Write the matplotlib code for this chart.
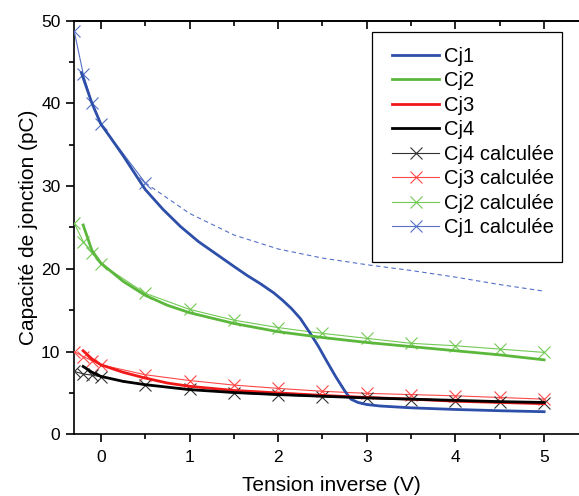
import matplotlib
matplotlib.use("Agg")
import matplotlib.pyplot as plt
from matplotlib.lines import Line2D
from matplotlib.patches import Rectangle

plt.rcParams['font.family'] = ['Liberation Sans', 'DejaVu Sans']

# Measured junction capacitance curves (smooth lines)
v_cj1 = [-0.22, -0.1, 0.0, 0.1, 0.25, 0.5, 0.7, 0.9, 1.1, 1.3, 1.5, 1.65, 1.8,
         1.95, 2.05, 2.15, 2.25, 2.35, 2.45, 2.55, 2.65, 2.75, 2.82, 2.9, 3.0,
         3.15, 3.5, 4.0, 4.5, 5.0]
c_cj1 = [43.7, 40.0, 37.5, 36.0, 33.7, 29.6, 27.2, 25.1, 23.3, 21.8, 20.3, 19.2, 18.2,
         17.1, 16.2, 15.2, 14.0, 12.4, 10.7, 8.8, 6.95, 5.26, 4.25, 3.85, 3.6,
         3.42, 3.2, 3.0, 2.85, 2.73]

v_cj = [-0.2, -0.1, 0.0, 0.25, 0.5, 0.75, 1.0, 1.5, 2.0, 2.5, 3.0, 3.5, 4.0, 4.5, 5.0]
c_cj2 = [25.3, 22.2, 20.7, 18.5, 16.8, 15.6, 14.7, 13.4, 12.4, 11.7, 11.1, 10.6, 10.1, 9.6, 9.0]
c_cj3 = [10.1, 9.1, 8.4, 7.5, 6.8, 6.2, 5.8, 5.3, 5.0, 4.7, 4.45, 4.25, 4.0, 3.85, 3.7]
c_cj4 = [8.2, 7.5, 7.0, 6.4, 6.0, 5.7, 5.4, 5.05, 4.8, 4.6, 4.4, 4.25, 4.1, 3.95, 3.85]

# Calculated values (thin lines with x markers)
v_calc = [-0.3, -0.2, -0.1, 0.0, 0.5, 1.0, 1.5, 2.0, 2.5, 3.0, 3.5, 4.0, 4.5, 5.0]
c_cj2_calc = [25.5, 23.3, 21.9, 20.6, 17.05, 15.1, 13.8, 12.9, 12.2, 11.6, 11.0, 10.7, 10.3, 9.9]
c_cj3_calc = [10.0, 9.4, 8.9, 8.4, 7.2, 6.5, 5.95, 5.55, 5.2, 4.95, 4.8, 4.65, 4.45, 4.25]
c_cj4_calc = [7.6, 7.3, 7.15, 6.95, 5.95, 5.45, 5.0, 4.75, 4.55, 4.35, 4.2, 4.05, 3.95, 3.8]

v_cj1_calc = [-0.3, -0.2, -0.1, 0.0, 0.5]
c_cj1_calc = [48.7, 43.6, 40.0, 37.5, 30.4]
v_cj1_ext = [0.5, 1.0, 1.5, 2.0, 2.5, 3.0, 3.5, 4.0, 4.5, 5.0]
c_cj1_ext = [30.4, 26.7, 24.1, 22.4, 21.3, 20.5, 19.8, 19.0, 18.1, 17.3]

x_ticks = [0, 1, 2, 3, 4, 5]
y_ticks = [0, 10, 20, 30, 40, 50]

BLUE, BLUE_L = '#2d4fa9', '#5570c6'
GREEN, GREEN_L = '#5cb83c', '#72c955'
RED, RED_L = '#f01818', '#ff4848'
BLACK, BLACK_L = '#000000', '#333333'

fig = plt.figure(figsize=(5.79, 4.96), dpi=100)
ax = fig.add_axes([0.1283, 0.1244, 0.888, 0.8339])

thick = 2.0
thin = 0.8
ms = 8.5
mew = 0.8

ax.plot(v_cj1_calc, c_cj1_calc, color=BLUE_L, lw=thin, marker='x', ms=ms, mew=mew, zorder=3)
ax.plot(v_cj1_ext, c_cj1_ext, color=BLUE_L, lw=thin, ls=(0, (4, 3)), zorder=3)
ax.plot(v_calc, c_cj2_calc, color=GREEN_L, lw=thin, marker='x', ms=ms, mew=mew, zorder=3)
ax.plot(v_calc, c_cj3_calc, color=RED_L, lw=thin, marker='x', ms=ms, mew=mew, zorder=3)
ax.plot(v_calc, c_cj4_calc, color=BLACK_L, lw=thin, marker='x', ms=ms, mew=mew, zorder=3)

ax.plot(v_cj1, c_cj1, color=BLUE, lw=thick, zorder=4, solid_joinstyle='round')
ax.plot(v_cj, c_cj2, color=GREEN, lw=thick, zorder=4, solid_joinstyle='round')
ax.plot(v_cj, c_cj3, color=RED, lw=thick, zorder=4, solid_joinstyle='round')
ax.plot(v_cj, c_cj4, color=BLACK, lw=thick, zorder=4, solid_joinstyle='round')

ax.set_xlim(-0.3, 5.5)
ax.set_ylim(0, 50)
ax.set_xticks(x_ticks)
ax.set_xticks([0.5, 1.5, 2.5, 3.5, 4.5], minor=True)
ax.set_yticks(y_ticks)
ax.set_yticks([5, 15, 25, 35, 45], minor=True)
ax.spines['right'].set_visible(False)
for s in ('left', 'bottom', 'top'):
    ax.spines[s].set_linewidth(1.2)
ax.tick_params(which='major', direction='out', length=6, width=1.2, labelsize=12.5, pad=4)
ax.tick_params(which='minor', direction='out', length=3.5, width=1.2)
ax.tick_params(axis='x', which='major', pad=5)

top = ax.secondary_xaxis('top')
top.set_xticks(x_ticks)
top.set_xticks([0.5, 1.5, 2.5, 3.5, 4.5], minor=True)
top.tick_params(which='major', direction='in', length=6, width=1.2, labeltop=False)
top.tick_params(which='minor', direction='in', length=3.5, width=1.2)
top.spines['top'].set_linewidth(1.2)

ax.set_xlabel('Tension inverse (V)', fontsize=15, labelpad=8)
ax.set_ylabel('Capacité de jonction (pC)', fontsize=15, labelpad=2)

handles = [
    Line2D([], [], color=BLUE, lw=thick),
    Line2D([], [], color=GREEN, lw=thick),
    Line2D([], [], color=RED, lw=thick),
    Line2D([], [], color=BLACK, lw=thick),
    Line2D([], [], color=BLACK_L, lw=thin, marker='x', ms=ms, mew=mew),
    Line2D([], [], color=RED_L, lw=thin, marker='x', ms=ms, mew=mew),
    Line2D([], [], color=GREEN_L, lw=thin, marker='x', ms=ms, mew=mew),
    Line2D([], [], color=BLUE_L, lw=thin, marker='x', ms=ms, mew=mew),
]
labels = ['Cj1', 'Cj2', 'Cj3', 'Cj4', 'Cj4 calculée', 'Cj3 calculée',
          'Cj2 calculée', 'Cj1 calculée']
leg = fig.legend(handles, labels, loc='upper left',
                 bbox_to_anchor=(392 / 579, 1 - 47 / 496), frameon=False,
                 fontsize=14.5, handlelength=2.35, handletextpad=0.25,
                 labelspacing=0.27, borderpad=0, borderaxespad=0)

fig.patches.append(Rectangle((372 / 579, 1 - 262 / 496), (562 - 372) / 579,
                             (262 - 32) / 496, transform=fig.transFigure,
                             fill=False, edgecolor='black', lw=0.9, zorder=5))

fig.savefig('out.png', dpi=100)
